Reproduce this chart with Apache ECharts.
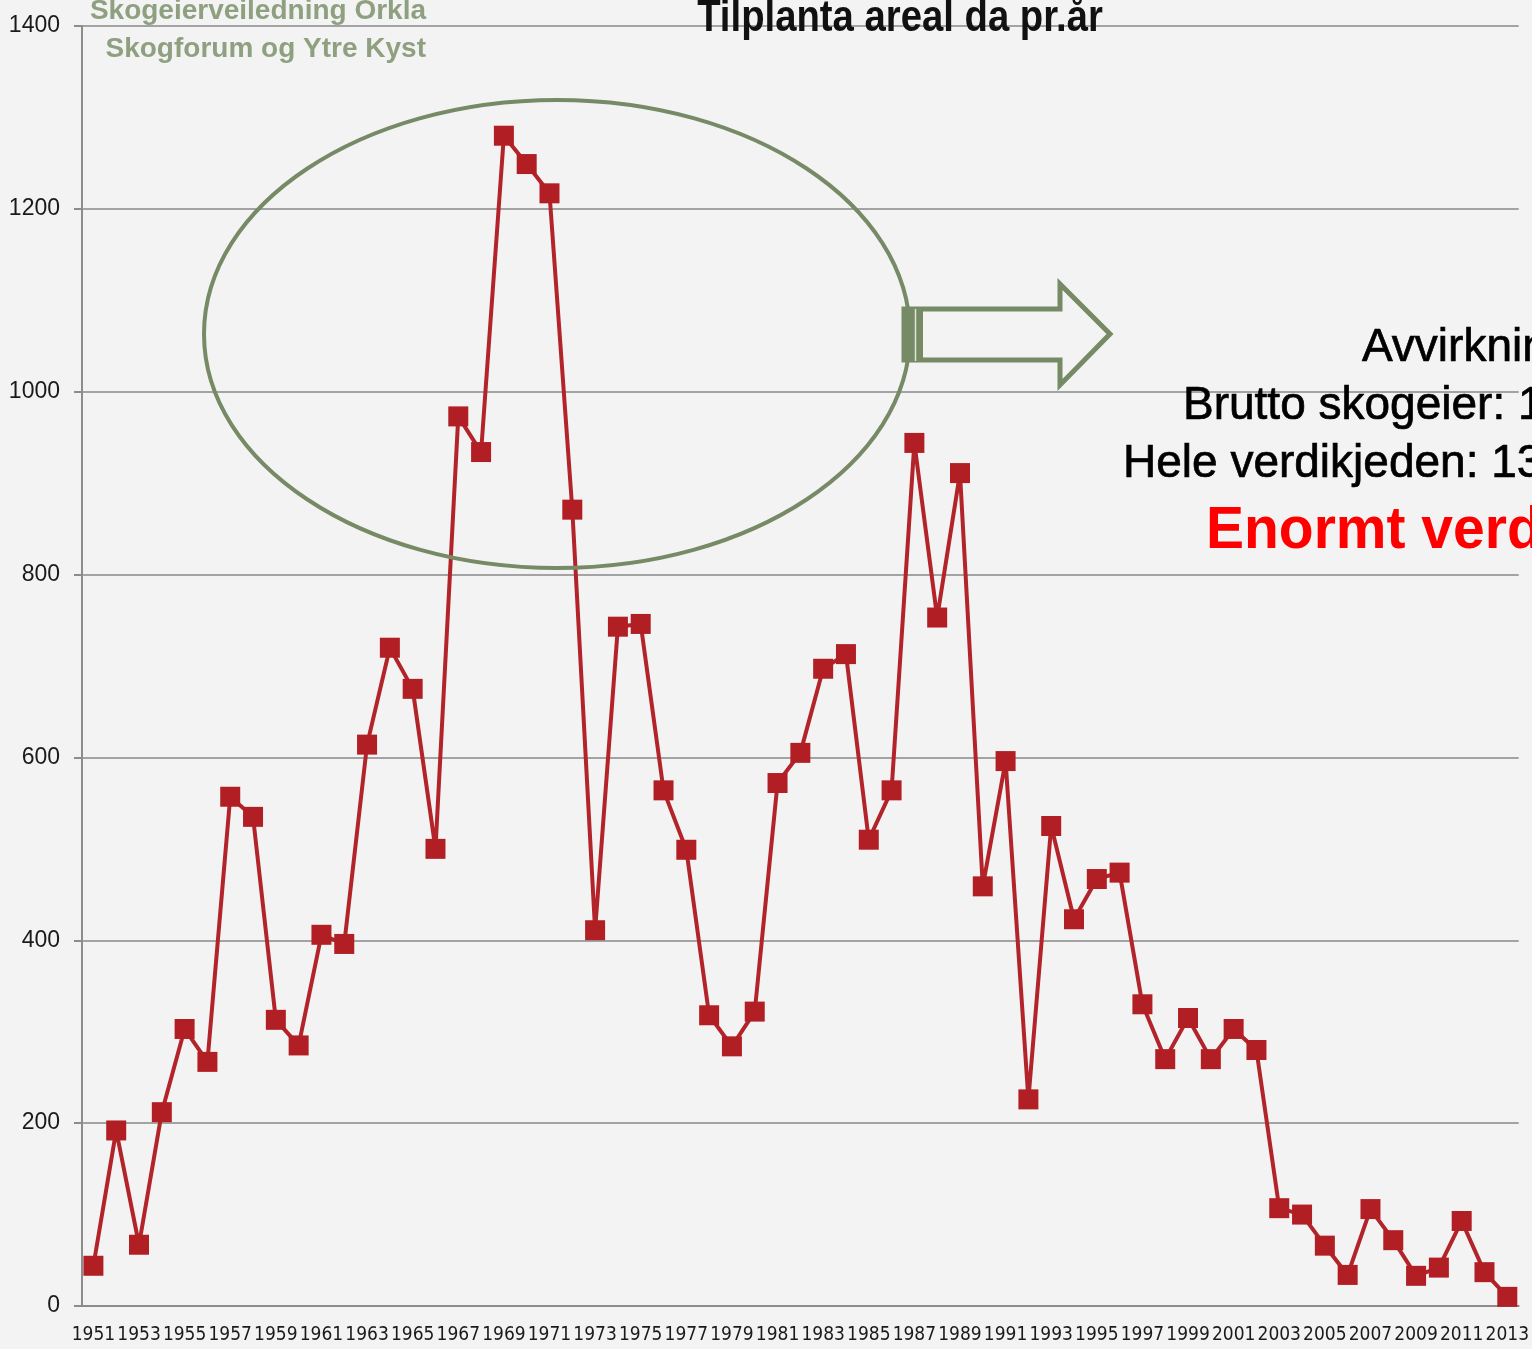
<!DOCTYPE html>
<html>
<head>
<meta charset="utf-8">
<title>Tilplanta areal da pr.år</title>
<script src="https://cdn.jsdelivr.net/npm/echarts@6/dist/echarts.min.js"></script>
<style>
  html, body { margin: 0; padding: 0; background: #f3f3f3; }
  #chart { width: 1532px; height: 1349px; }
</style>
</head>
<body>
<div id="chart"></div>
<script>
// årstall 1951 - 2013
var years = [];
for (var y = 1951; y <= 2013; y++) years.push(String(y));

// tilplanta areal pr. år
var areal = [
  44, 192, 67, 212, 303, 267, 557, 535, 313, 285,
  406, 396, 614, 720, 675, 500, 973, 934, 1280, 1249,
  1217, 871, 411, 743, 746, 564, 499, 318, 284, 322,
  572, 605, 697, 713, 510, 564, 944, 753, 911, 459,
  596, 226, 525, 423, 467, 474, 330, 270, 315, 270,
  303, 280, 107, 100, 66, 34, 106, 72, 33, 42,
  93, 37, 10
];

var yMin = 0, yMax = 1400, yStep = 200;

var chart = echarts.init(document.getElementById('chart'));
var green = '#778a66';

var option = {
  backgroundColor: '#f3f3f3',
  animation: false,
  grid: { left: 82, right: 8, top: 26, bottom: 43, containLabel: false },
  xAxis: {
    type: 'category',
    data: years,
    boundaryGap: true,
    axisLine: { lineStyle: { color: '#8c8c8c', width: 2 } },
    axisTick: { interval: 0, length: 7, lineStyle: { color: '#8c8c8c', width: 1.5 } },
    axisLabel: {
      interval: 1,
      color: '#1a1a1a',
      fontFamily: 'DejaVu Sans Condensed, Liberation Sans Narrow, sans-serif',
      fontSize: 19,
      margin: 20
    },
    splitLine: { show: false }
  },
  yAxis: {
    type: 'value',
    min: yMin, max: yMax, interval: yStep,
    axisLine: { show: true, lineStyle: { color: '#8c8c8c', width: 2 } },
    axisTick: { show: true, length: 8, lineStyle: { color: '#8c8c8c', width: 2 } },
    axisLabel: {
      color: '#1a1a1a',
      fontFamily: 'Liberation Sans, sans-serif',
      fontSize: 23,
      margin: 22,
      formatter: function (v) { return String(v); }
    },
    splitLine: { lineStyle: { color: '#a3a3a3', width: 2 } }
  },
  series: [{
    name: 'Tilplanta areal',
    type: 'line',
    data: areal,
    symbol: 'rect',
    symbolSize: 20,
    showAllSymbol: true,
    lineStyle: { color: '#b3242a', width: 4 },
    itemStyle: { color: '#b11f24' },
    z: 5
  }],
  graphic: [
    // ellipse rundt toppårene
    { type: 'ellipse', shape: { cx: 557, cy: 334, rx: 353, ry: 234 },
      style: { fill: null, stroke: green, lineWidth: 4 }, z: 10 },
    // pil
    { type: 'polygon',
      shape: { points: [[904, 309], [1060, 309], [1060, 284], [1110, 334], [1060, 385], [1060, 360], [904, 360]] },
      style: { fill: null, stroke: green, lineWidth: 5 }, z: 10 },
    { type: 'rect', shape: { x: 903, y: 308, width: 20, height: 54 },
      style: { fill: green }, z: 11 },
    { type: 'line', shape: { x1: 915.5, y1: 309, x2: 915.5, y2: 361 },
      style: { stroke: '#dfe3da', lineWidth: 1.5 }, z: 12 },
    // tittel
    { type: 'text', x: 900, y: 19, scaleX: 0.87, z: 20,
      style: { text: 'Tilplanta areal da pr.år', fill: '#111',
        font: 'bold 44px "Liberation Sans", sans-serif',
        align: 'center', verticalAlign: 'middle' } },
    // kilde
    { type: 'text', x: 426, y: 11, z: 20,
      style: { text: 'Skogeierveiledning Orkla', fill: '#8fa080',
        font: 'bold 28px "Liberation Sans", sans-serif', align: 'right', verticalAlign: 'middle' } },
    { type: 'text', x: 426, y: 49, z: 20,
      style: { text: 'Skogforum og Ytre Kyst', fill: '#8fa080',
        font: 'bold 28px "Liberation Sans", sans-serif', align: 'right', verticalAlign: 'middle' } },
    // tekst til høyre
    { type: 'text', x: 1362, y: 348, z: 20,
      style: { text: 'Avvirkning', fill: '#000', stroke: '#000', lineWidth: 0.7,
        font: '46px "Liberation Sans", sans-serif', align: 'left', verticalAlign: 'middle' } },
    { type: 'text', x: 1183, y: 406, z: 20,
      style: { text: 'Brutto skogeier: 1', fill: '#000', stroke: '#000', lineWidth: 0.7,
        font: '46px "Liberation Sans", sans-serif', align: 'left', verticalAlign: 'middle' } },
    { type: 'text', x: 1123, y: 464, z: 20,
      style: { text: 'Hele verdikjeden: 13', fill: '#000', stroke: '#000', lineWidth: 0.7,
        font: '46px "Liberation Sans", sans-serif', align: 'left', verticalAlign: 'middle' } },
    { type: 'text', x: 1206, y: 531, scaleX: 0.95, z: 20,
      style: { text: 'Enormt verd', fill: '#ff0000',
        font: 'bold 60px "Liberation Sans", sans-serif', align: 'left', verticalAlign: 'middle' } }
  ]
};

chart.setOption(option);
</script>
</body>
</html>
